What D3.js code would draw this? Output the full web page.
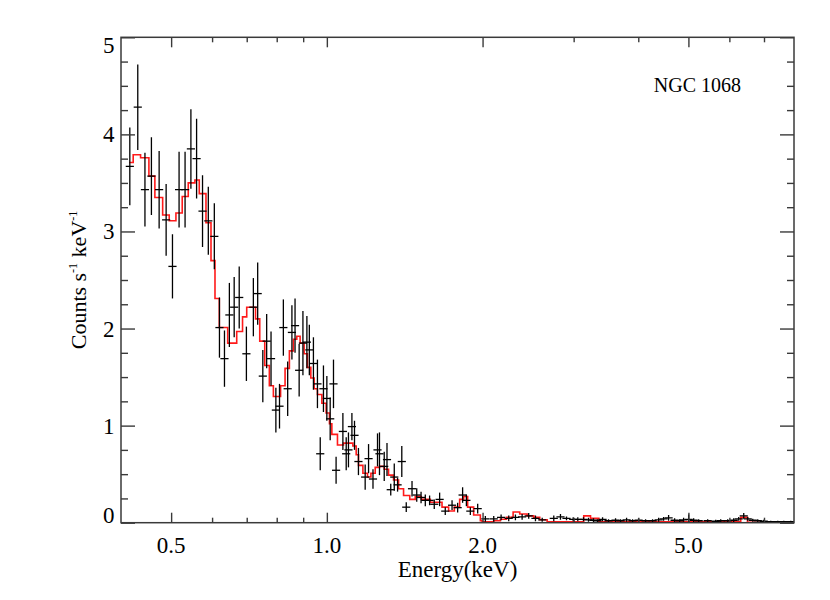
<!DOCTYPE html>
<html><head><meta charset="utf-8">
<script src="https://cdn.jsdelivr.net/npm/d3@7"></script>
<style>
body{margin:0;background:#fff}
text{font-family:"Liberation Serif","Times New Roman",serif;fill:#000}
</style></head>
<body><svg id="chart" width="830" height="600"></svg>
<script>
// ---- data ----
const energy = [0.416,0.431,0.445,0.458,0.474,0.489,0.503,0.518,0.532,0.546,
0.560,0.575,0.590,0.606,0.620,0.634,0.648,0.662,0.677,0.699,
0.721,0.735,0.752,0.765,0.780,0.797,0.810,0.824,0.840,0.856,
0.868,0.884,0.899,0.915,0.925,0.942,0.959,0.971,0.985,1.000,
1.015,1.030,1.042,1.074,1.090,1.101,1.118,1.131,1.151,1.186,
1.204,1.228,1.253,1.264,1.291,1.307,1.329,1.350,1.370,1.396,
1.424,1.461,1.492,1.521,1.550,1.580,1.613,1.652,1.694,1.746,
1.790,1.830,1.861,1.894,1.957,2.025,2.102,2.172,2.247,2.315,
2.385,2.456,2.531,2.608,2.746,2.829,2.906,2.994,3.056,3.134,
3.205,3.277,3.336,3.412,3.504,3.615,3.697,3.797,3.900,4.005,
4.132,4.263,4.379,4.477,4.578,4.702,4.808,4.894,5.005,5.118,
5.234,5.448,5.646,5.773,5.956,6.117,6.255,6.396,6.511,6.658,
6.808,6.992,7.214,7.442,7.644,7.886];
const counts = [3.67,4.28,3.43,3.57,3.43,3.12,2.64,3.43,3.43,3.85,
3.75,3.21,3.11,2.95,2.01,1.69,2.14,2.22,2.32,1.74,
2.22,2.36,1.51,1.87,1.69,1.16,1.20,2.01,1.38,1.96,
2.03,1.57,1.85,1.86,1.78,1.64,1.43,0.71,1.38,1.28,
1.07,1.43,0.54,0.94,0.71,0.75,0.99,0.90,0.63,0.47,
0.66,0.45,0.75,0.71,0.58,0.65,0.34,0.47,0.39,0.63,
0.16,0.35,0.285,0.26,0.23,0.23,0.19,0.24,0.12,0.18,
0.155,0.285,0.23,0.12,0.145,0.04,0.04,0.055,0.045,0.055,
0.06,0.07,0.045,0.03,0.045,0.06,0.045,0.035,0.035,0.035,
0.03,0.025,0.02,0.035,0.02,0.025,0.02,0.03,0.02,0.025,
0.02,0.02,0.03,0.04,0.05,0.025,0.02,0.03,0.035,0.025,
0.02,0.02,0.015,0.02,0.02,0.025,0.04,0.07,0.04,0.025,
0.02,0.015,0.01,0.01,0.01,0.01];
const countErr = [0.40,0.44,0.38,0.40,0.40,0.37,0.33,0.39,0.39,0.41,
0.41,0.37,0.35,0.34,0.31,0.29,0.33,0.31,0.32,0.28,
0.30,0.32,0.27,0.28,0.28,0.23,0.23,0.29,0.28,0.28,
0.28,0.27,0.33,0.27,0.26,0.27,0.25,0.17,0.24,0.23,
0.22,0.25,0.14,0.19,0.17,0.18,0.14,0.15,0.14,0.13,
0.15,0.10,0.17,0.22,0.15,0.17,0.06,0.14,0.07,0.16,
0.05,0.08,0.07,0.06,0.06,0.05,0.05,0.07,0.04,0.05,
0.05,0.08,0.06,0.04,0.05,0.03,0.03,0.03,0.03,0.03,
0.03,0.03,0.03,0.02,0.03,0.03,0.02,0.02,0.02,0.02,
0.02,0.02,0.015,0.02,0.015,0.02,0.015,0.02,0.015,0.02,
0.015,0.015,0.02,0.02,0.03,0.02,0.015,0.02,0.05,0.02,
0.015,0.015,0.015,0.015,0.015,0.02,0.02,0.03,0.02,0.015,
0.015,0.015,0.01,0.01,0.01,0.01];

const modelEdges = [0.4149,0.4223,0.4364,0.4529,0.4651,0.4815,0.4958,0.5108,0.5253,0.5396,
0.5559,0.5667,0.5839,0.5971,0.6078,0.6196,0.6432,0.6695,0.6871,0.7000,
0.7280,0.7418,0.7585,0.7742,0.7882,0.8139,0.8303,0.8464,0.8617,0.8748,
0.8878,0.9037,0.9171,0.9312,0.9450,0.9590,0.9780,0.9969,1.0117,1.0225,
1.0484,1.0768,1.0962,1.1229,1.1395,1.1513,1.1741,1.1984,1.2167,1.2402,
1.2643,1.2910,1.3160,1.3457,1.3760,1.4070,1.4464,1.4823,1.5226,1.5849,
1.6697,1.7195,1.7638,1.8060,1.8385,1.8715,1.9221,1.9805,1.9956,2.1015,
2.1651,2.2239,2.2914,2.3597,2.4388,2.5116,2.5797,2.6663,3.138,3.234,
3.356,6.311,6.503,8.0];
const modelValues = [3.71,3.79,3.76,3.57,3.35,3.17,3.11,3.19,3.36,3.50,
3.53,3.39,3.09,2.70,2.31,2.01,1.85,1.97,2.12,2.22,
2.10,1.87,1.62,1.41,1.30,1.41,1.59,1.77,1.89,1.92,
1.85,1.74,1.60,1.49,1.38,1.32,1.23,1.13,1.02,0.91,
0.80,0.82,0.82,0.79,0.70,0.59,0.51,0.47,0.51,0.57,
0.58,0.55,0.49,0.44,0.35,0.28,0.24,0.27,0.24,0.21,
0.16,0.12,0.16,0.24,0.27,0.16,0.08,0.02,0.01,0.02,
0.035,0.055,0.11,0.09,0.07,0.055,0.03,0.01,0.07,0.045,
0.01,0.055,0.005];

const xDomain = [0.4, 8.0];
const yDomain = [0, 5];
const xMajorTicks = [0.5, 1.0, 2.0, 5.0];
const xTickLabels = ["0.5", "1.0", "2.0", "5.0"];
const xMinorTicks = [0.6, 0.7, 0.8, 0.9, 3.0, 4.0, 6.0, 7.0];
const yMajorTicks = [0, 1, 2, 3, 4, 5];
const yTickLabels = ["0", "1", "2", "3", "4", "5"];
const yMinorTicks = [0.25,0.5,0.75,1.25,1.5,1.75,2.25,2.5,2.75,3.25,3.5,3.75,4.25,4.5,4.75];
const titleText = "NGC 1068";
const xTitle = "Energy(keV)";

// ---- layout ----
const L = 121, R = 794, T = 37.3, B = 522.7;
const svg = d3.select("#chart");
const x = d3.scaleLog().domain(xDomain).range([L, R]);
const y = d3.scaleLinear().domain(yDomain).range([B, T]);
const axisColor = "#3a3a3a";

svg.append("defs").append("clipPath").attr("id","plotclip")
  .append("rect").attr("x",L).attr("y",T).attr("width",R-L).attr("height",B-T);

const plot = svg.append("g").attr("clip-path","url(#plotclip)");

// model step curve
const stepPts = [];
modelValues.forEach((v,i)=>{ stepPts.push([modelEdges[i], v]); stepPts.push([modelEdges[i+1], v]); });
plot.append("path").datum(stepPts)
  .attr("d", d3.line().x(d=>x(d[0])).y(d=>y(d[1])))
  .attr("fill","none").attr("stroke","#ff1a1a").attr("stroke-width",1.6);

// data crosses
const pts = energy.map((e,i)=>({e, v:counts[i], err:countErr[i]}));
const g = plot.append("g").attr("stroke","#000").attr("stroke-width",1.3);
g.selectAll("line.v").data(pts).join("line").attr("class","v")
  .attr("x1",d=>x(d.e)).attr("x2",d=>x(d.e))
  .attr("y1",d=>y(d.v-d.err)).attr("y2",d=>y(d.v+d.err));
g.selectAll("line.h").data(pts).join("line").attr("class","h")
  .attr("x1",d=>x(d.e*0.982)).attr("x2",d=>x(d.e/0.982))
  .attr("y1",d=>y(d.v)).attr("y2",d=>y(d.v));

// axes (inward ticks)
function drawAxis(gen, tr){
  const a = svg.append("g").attr("transform",tr).call(gen);
  a.select(".domain").remove();
  a.selectAll("line").attr("stroke",axisColor).attr("stroke-width",1.4);
  a.selectAll("text").remove();
}
drawAxis(d3.axisBottom(x).tickValues(xMajorTicks).tickSize(-10).tickSizeOuter(0), `translate(0,${B})`);
drawAxis(d3.axisBottom(x).tickValues(xMinorTicks).tickSize(-5).tickSizeOuter(0), `translate(0,${B})`);
drawAxis(d3.axisTop(x).tickValues(xMajorTicks).tickSize(-10).tickSizeOuter(0), `translate(0,${T})`);
drawAxis(d3.axisTop(x).tickValues(xMinorTicks).tickSize(-5).tickSizeOuter(0), `translate(0,${T})`);
drawAxis(d3.axisLeft(y).tickValues(yMajorTicks).tickSize(-14).tickSizeOuter(0), `translate(${L},0)`);
drawAxis(d3.axisLeft(y).tickValues(yMinorTicks).tickSize(-7).tickSizeOuter(0), `translate(${L},0)`);
drawAxis(d3.axisRight(y).tickValues(yMajorTicks).tickSize(-14).tickSizeOuter(0), `translate(${R},0)`);
drawAxis(d3.axisRight(y).tickValues(yMinorTicks).tickSize(-7).tickSizeOuter(0), `translate(${R},0)`);

svg.append("rect").attr("x",L).attr("y",T).attr("width",R-L).attr("height",B-T)
  .attr("fill","none").attr("stroke",axisColor).attr("stroke-width",1.5);

// tick labels
svg.append("g").selectAll("text").data(xMajorTicks).join("text")
  .attr("x",d=>x(d)).attr("y",553).attr("text-anchor","middle")
  .attr("font-size",23).text((d,i)=>xTickLabels[i]);
svg.append("g").selectAll("text").data(yMajorTicks).join("text")
  .attr("x",114.5)
  .attr("y",d=> d===yDomain[1] ? y(d)+15.5 : (d===yDomain[0] ? y(d) : y(d)+8))
  .attr("text-anchor","end").attr("font-size",23).text((d,i)=>yTickLabels[i]);

// titles
svg.append("text").attr("x",(L+R)/2).attr("y",577).attr("text-anchor","middle")
  .attr("font-size",23).text(xTitle);
const yt = svg.append("text").attr("transform",`translate(86,${(T+B)/2}) rotate(-90)`)
  .attr("text-anchor","middle").attr("font-size",22);
yt.append("tspan").text("Counts s");
yt.append("tspan").attr("font-size",12).attr("dy",-9).text("-1");
yt.append("tspan").attr("dy",9).text(" keV");
yt.append("tspan").attr("font-size",12).attr("dy",-9).text("-1");

svg.append("text").attr("x",741).attr("y",92).attr("text-anchor","end")
  .attr("font-size",20).text(titleText);
</script></body></html>
